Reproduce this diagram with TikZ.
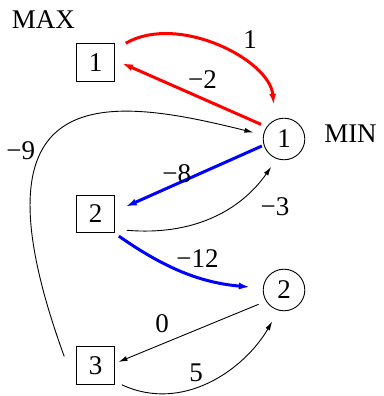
\documentclass[tikz,border=0pt]{standalone}
\usepackage{fontspec}
\setmainfont{Liberation Serif}
\usetikzlibrary{arrows.meta}

\begin{document}
\begin{tikzpicture}[x=1pt, y=1pt, every node/.style={font=\fontsize{27}{30}\selectfont}, maxbox/.style={draw, line width=0.9pt, minimum size=37.6pt, inner sep=0pt}, minnode/.style={draw, circle, line width=0.9pt, minimum size=41.6pt, inner sep=0pt}, thin edge/.style={line width=0.9pt, -{Latex[length=9pt,width=5pt]}}, red edge/.style={red, line width=3pt, -{Latex[length=11pt,width=7pt]}}, blue edge/.style={blue, line width=3pt, -{Latex[length=11pt,width=7pt]}}]
  \useasboundingbox (0,0) rectangle (383,396);
  \node[maxbox] (max1) at (95.5,333.5) {1};
  \node[maxbox] (max2) at (95.5,182) {2};
  \node[maxbox] (max3) at (95.5,30.5) {3};
  \node[minnode] (min1) at (284,257) {1};
  \node[minnode] (min2) at (284,106) {2};
  \node (maxlab) at (43.3,376.7) {MAX};
  \node (minlab) at (350.5,262.7) {MIN};
  % red and blue: chosen moves
  \draw[red edge, shorten >=15pt] ([xshift=11pt]max1.north east) to[out=30, in=95, looseness=0.92] (min1.115);
  \draw[red edge, shorten <=6pt, shorten >=8pt] (min1.145) -- ([yshift=2.5pt]max1.east);
  \draw[blue edge, shorten <=2pt, shorten >=12pt] (min1.197) -- ([yshift=2.5pt]max2.east);
  \draw[blue edge, shorten <=5pt, shorten >=13pt] (max2.south east) to[out=-35, in=175] (min2.175);
  % other moves
  \draw[thin edge, shorten >=10pt] ([shift={(-12pt,9pt)}]max3.west) .. controls +(110:300pt) and +(166:158pt) .. (min1.169);
  \draw[thin edge, shorten >=9.5pt] ([shift={(12pt,3pt)}]max2.south east) to[out=-5, in=235] (min1.250);
  \draw[thin edge, shorten <=8pt, shorten >=4pt] (min2.212) -- ([yshift=2pt]max3.east);
  \draw[thin edge, shorten >=12.5pt] ([xshift=7pt]max3.south east) to[out=-25, in=240] (min2.255);
  % weights
  \node (w1) at (250,356) {1};
  \node (w2) at (202.5,316) {−2};
  \node (w9) at (20.8,245) {−9};
  \node (w8) at (176.7,222.7) {−8};
  \node (w3) at (275,189) {−3};
  \node (w12) at (197.5,137.3) {−12};
  \node (w0) at (162,72.2) {0};
  \node (w5) at (196.2,23.2) {5};
\end{tikzpicture}
\end{document}
